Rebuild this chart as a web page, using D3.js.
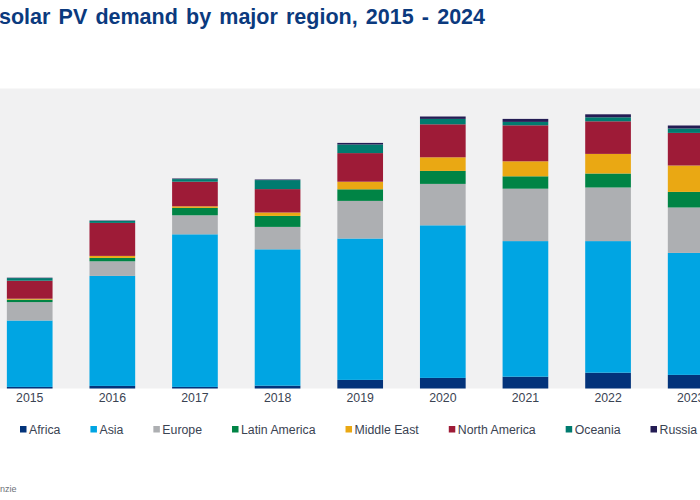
<!DOCTYPE html>
<html lang="en">
<head>
<meta charset="utf-8">
<title>solar PV demand by major region</title>
<script src="https://cdn.jsdelivr.net/npm/d3@7/dist/d3.min.js"></script>
<style>
    html, body { margin: 0; padding: 0; background: #fff; overflow: hidden; }
    text { font-family: "Liberation Sans", Arial, sans-serif; }
</style>
</head>
<body>
<svg id="chart" width="700" height="500"></svg>
<script>
// values (GW, estimated). 2024 falls outside the crop
var years = ["2015", "2016", "2017", "2018", "2019", "2020", "2021", "2022", "2023"];
var regions = ["Africa", "Asia", "Europe", "Latin America", "Middle East", "North America", "Oceania", "Russia"];
var colors = ["#03337a", "#00a5e3", "#adafb2", "#008445", "#eaa813", "#9e1b37", "#007b6f", "#241c54"];

var africa       = [0.8, 1.3, 0.8, 1.4, 4.3, 5.3, 5.9, 7.9, 6.8];
var asia         = [33.2, 55, 76.3, 68.2, 70.7, 76.3, 67.8, 65.8, 61];
var europe       = [9.2, 7.3, 9.5, 11.2, 18.8, 20.7, 26.2, 26.8, 22.7];
var latinAmerica = [1.2, 1.7, 3.7, 5.5, 5.8, 6.5, 6.2, 7, 7.8];
var middleEast   = [0.5, 1, 0.8, 1.7, 3.8, 6.8, 7.5, 9.8, 13.2];
var northAmerica = [9, 16.5, 12.3, 11.7, 14.3, 16.5, 18, 16.3, 16.3];
var oceania      = [1.3, 1, 1.3, 4.5, 4.3, 2.7, 1.7, 2, 2.2];
var russia       = [0.2, 0.2, 0.3, 0.3, 0.8, 1.2, 1.5, 1.5, 1.5];

var tableRows = years.map(function (year, i) {
    return {
        year: year,
        "Africa": africa[i],
        "Asia": asia[i],
        "Europe": europe[i],
        "Latin America": latinAmerica[i],
        "Middle East": middleEast[i],
        "North America": northAmerica[i],
        "Oceania": oceania[i],
        "Russia": russia[i]
    };
});

var svg = d3.select("#chart");
var plotTop = 88.5, plotBottom = 388.5;

// plot runs past the right edge of the window, same as the reference
var x = d3.scaleBand()
    .domain(years)
    .range([-11.6, -11.6 + 82.62 * years.length])
    .paddingInner(0.447)
    .paddingOuter(0.2235);

var y = d3.scaleLinear().domain([0, 150]).range([plotBottom, plotTop]);
var color = d3.scaleOrdinal().domain(regions).range(colors);

svg.append("rect")
    .attr("x", 0)
    .attr("y", plotTop)
    .attr("width", 700)
    .attr("height", plotBottom - plotTop)
    .attr("fill", "#f1f1f2");

svg.append("text")
    .attr("x", -1)
    .attr("y", 23.5)
    .attr("font-size", 21.5)
    .attr("font-weight", "bold")
    .attr("word-spacing", 2.2)
    .attr("fill", "#0b3a7e")
    .text("solar PV demand by major region, 2015 - 2024");

var stacked = d3.stack().keys(regions)(tableRows);

svg.append("g")
    .selectAll("g")
    .data(stacked)
    .enter()
    .append("g")
    .attr("fill", function (d) { return color(d.key); })
    .selectAll("rect")
    .data(function (d) { return d; })
    .enter()
    .append("rect")
    .attr("x", function (d) { return x(d.data.year); })
    .attr("y", function (d) { return y(d[1]); })
    .attr("width", x.bandwidth())
    .attr("height", function (d) { return y(d[0]) - y(d[1]); });

// year labels, no axis line or ticks in the reference
var xAxis = svg.append("g")
    .attr("transform", "translate(0," + plotBottom + ")")
    .call(d3.axisBottom(x).tickSize(0).tickPadding(5));
xAxis.select(".domain").remove();
xAxis.selectAll("text")
    .attr("font-size", 12.3)
    .attr("fill", "#3a4352")
    .style("font-family", '"Liberation Sans", Arial, sans-serif');

// legend flows left to right, spacing from the label widths
var legend = svg.append("g").attr("transform", "translate(0,429)");
var legendX = 20;
regions.forEach(function (region) {
    var item = legend.append("g").attr("transform", "translate(" + legendX + ",0)");
    item.append("rect")
        .attr("x", 0)
        .attr("y", -3)
        .attr("width", 6.5)
        .attr("height", 6.5)
        .attr("fill", color(region));
    var label = item.append("text")
        .attr("x", 9)
        .attr("y", 4.5)
        .attr("font-size", 12.3)
        .attr("fill", "#3a4352")
        .text(region);
    legendX += 9 + label.node().getComputedTextLength() + 30;
});

svg.append("text")
    .attr("x", 0)
    .attr("y", 492)
    .attr("font-size", 9)
    .attr("fill", "#6d7178")
    .text("nzie");
</script>
</body>
</html>
